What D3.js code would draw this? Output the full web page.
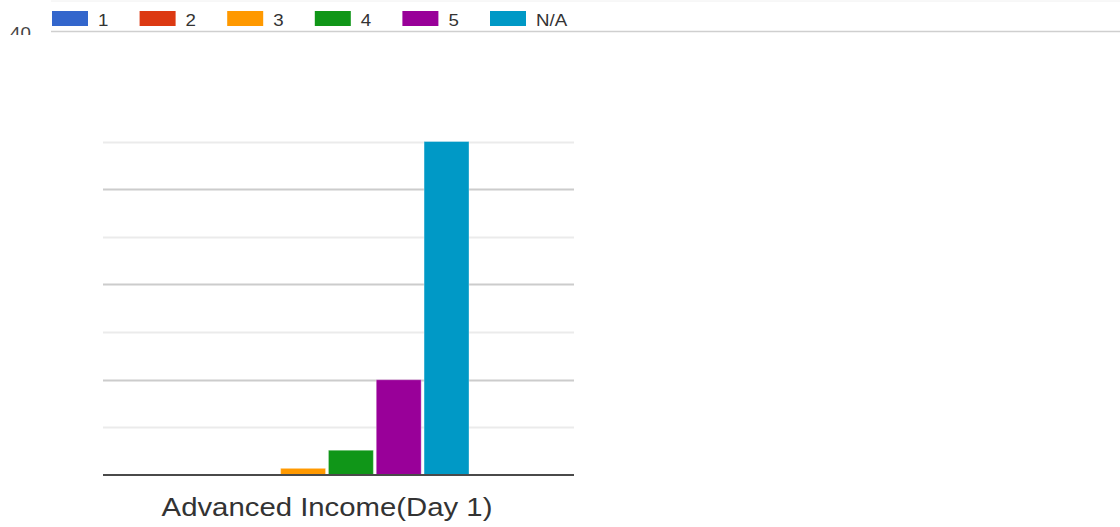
<!DOCTYPE html>
<html>
<head>
<meta charset="utf-8">
<script src="https://cdn.jsdelivr.net/npm/d3@7"></script>
<style>
  html, body { margin: 0; padding: 0; background: #fff; }
  svg { display: block; font-family: Arial, "Liberation Sans", sans-serif; }
</style>
</head>
<body>
<svg id="chart" width="1120" height="527"></svg>
<script>
// ---- data ----
const category = "Advanced Income(Day 1)";
const seriesNames = ["1", "2", "3", "4", "5", "N/A"];
const seriesValues = [0, 0, 0.7, 2.6, 10, 35];
const seriesColors = ["#3366cc", "#dc3912", "#ff9900", "#109618", "#990099", "#0099c6"];
const gridValues = [5, 10, 15, 20, 25, 30, 35];
const majorGrid = [10, 20, 30];
const strayTickLabel = "40";

// ---- layout ----
const W = 1120, H = 527;
const plotLeft = 103, plotRight = 574;
const baseY = 475, topY = 141.5;
const svg = d3.select("#chart");

const y = d3.scaleLinear().domain([0, 35]).range([baseY, topY]);
const x = d3.scaleBand().domain(seriesNames).range([185, 469]).paddingInner(0.06).paddingOuter(0);

// top strip: faint line, stray label, legend divider
svg.append("line").attr("x1", 51).attr("x2", W).attr("y1", 1).attr("y2", 1)
  .attr("stroke", "#f0f0f0").attr("stroke-width", 1);

svg.append("defs").append("clipPath").attr("id", "clipTop")
  .append("rect").attr("x", 0).attr("y", 0).attr("width", 50).attr("height", 35);
svg.append("g").attr("clip-path", "url(#clipTop)")
  .append("text")
  .attr("transform", "translate(10,39) scale(1.1,1)")
  .attr("font-size", 17).attr("fill", "#444").text(strayTickLabel);

svg.append("line").attr("x1", 51).attr("x2", W).attr("y1", 31.5).attr("y2", 31.5)
  .attr("stroke", "#cfcfcf").attr("stroke-width", 1.5);

// legend
const legend = svg.append("g");
const legendItems = legend.selectAll("g").data(seriesNames).enter().append("g")
  .attr("transform", (d, i) => `translate(${52 + i * 87.6},0)`);
legendItems.append("rect").attr("x", 0).attr("y", 11).attr("width", 36).attr("height", 15)
  .attr("fill", (d, i) => seriesColors[i]);
legendItems.append("text")
  .attr("transform", "translate(46,25.5) scale(1.1,1)")
  .attr("font-size", 17).attr("fill", "#333").text(d => d);

// gridlines
svg.append("g").selectAll("line").data(gridValues).enter().append("line")
  .attr("x1", plotLeft).attr("x2", plotRight)
  .attr("y1", d => Math.round(y(d)) + 0.5).attr("y2", d => Math.round(y(d)) + 0.5)
  .attr("stroke", d => majorGrid.includes(d) ? "#cccccc" : "#ebebeb")
  .attr("stroke-width", 2);

// bars
svg.append("g").selectAll("rect").data(seriesNames).enter().append("rect")
  .attr("x", d => x(d))
  .attr("width", x.bandwidth())
  .attr("y", (d, i) => y(seriesValues[i]))
  .attr("height", (d, i) => baseY - y(seriesValues[i]))
  .attr("fill", (d, i) => seriesColors[i])
  .attr("stroke", "#ffffff").attr("stroke-opacity", 0.35).attr("stroke-width", 1);

// baseline
svg.append("line").attr("x1", plotLeft).attr("x2", plotRight)
  .attr("y1", baseY).attr("y2", baseY)
  .attr("stroke", "#4a4a4a").attr("stroke-width", 2);

// category label
const cx = x(seriesNames[0]) + (x(seriesNames[seriesNames.length - 1]) + x.bandwidth() - x(seriesNames[0])) / 2;
svg.append("text")
  .attr("transform", `translate(${cx},515.5) scale(1.12,1)`)
  .attr("text-anchor", "middle").attr("font-size", 26.2).attr("fill", "#333")
  .text(category);
</script>
</body>
</html>
